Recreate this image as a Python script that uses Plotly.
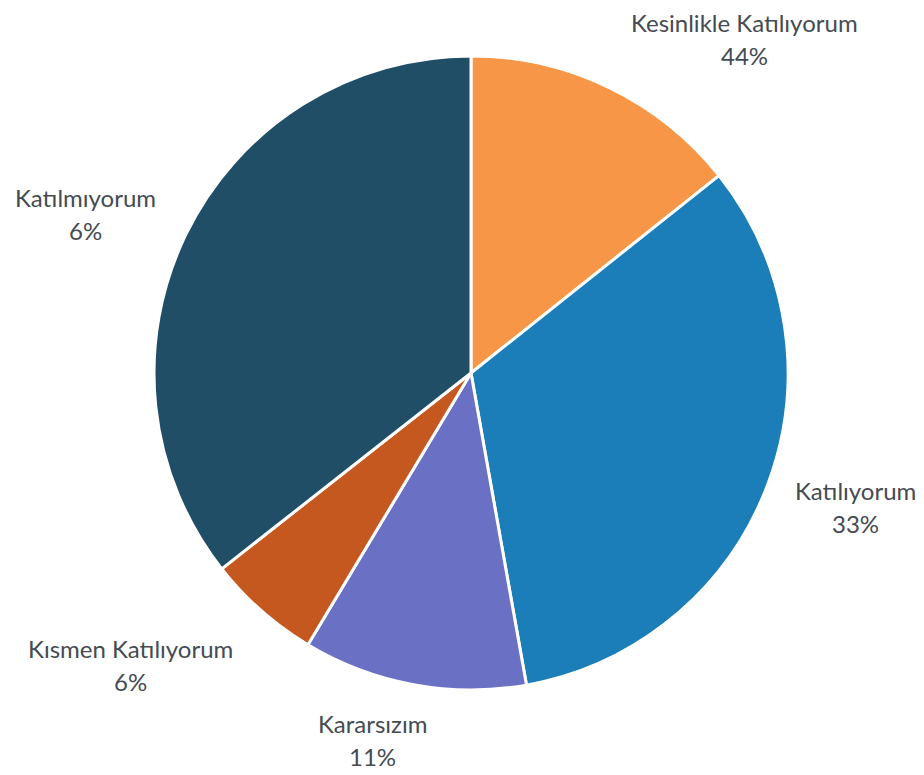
import plotly.graph_objects as go

# Data (slice sizes; printed percentages as shown in labels)
categories = ["Kesinlikle Katılıyorum", "Katılıyorum", "Kararsızım", "Kısmen Katılıyorum", "Katılmıyorum"]
slice_values = [14.3, 32.9, 11.4, 5.8, 35.6]
label_percent = ["44%", "33%", "11%", "6%", "6%"]
colors = ["#F79646", "#1B7EB8", "#6A70C4", "#C4581F", "#1F4E66"]

W, H = 924, 775
OFF = 8  # page body margin offset
cx, cy, r = 471 - OFF, 373 - OFF, 317

fig = go.Figure(go.Pie(
    labels=categories,
    values=slice_values,
    sort=False,
    direction="clockwise",
    rotation=0,
    marker=dict(colors=colors, line=dict(color="white", width=3)),
    textinfo="none",
    hoverinfo="label+percent",
    showlegend=False,
    domain=dict(x=[(cx - r) / W, (cx + r) / W], y=[1 - (cy + r) / H, 1 - (cy - r) / H]),
))

# label anchor points (pixels) for name line
label_pos = [(744, 22), (855, 490), (372, 723), (130, 648), (85, 198)]
font = dict(family="Lato, Open Sans, sans-serif", size=24, color="#454B52")
for name, pct, (px, py) in zip(categories, label_percent, label_pos):
    px, py = px - OFF, py - OFF
    fig.add_annotation(x=px / W, y=1 - py / H, xref="paper", yref="paper",
                       text=name, showarrow=False, font=font, xanchor="center", yanchor="middle")
    fig.add_annotation(x=px / W, y=1 - (py + 33) / H, xref="paper", yref="paper",
                       text=pct, showarrow=False, font=font, xanchor="center", yanchor="middle")

fig.update_layout(width=W, height=H, margin=dict(l=0, r=0, t=0, b=0),
                  paper_bgcolor="white", plot_bgcolor="white")
fig.write_html("out.html")
